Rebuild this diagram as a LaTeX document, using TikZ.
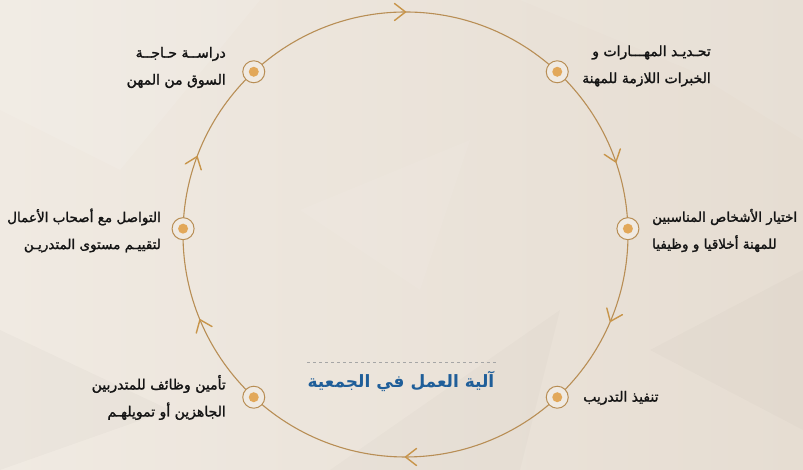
\documentclass[tikz,border=0pt]{standalone}
\usepackage{fontspec}
\newfontfamily\arabicfont[Script=Arabic, FakeBold=1.6]{DejaVu Sans}
\newfontfamily\arabicbold[Script=Arabic]{DejaVu Sans Bold}
\TeXXeTstate=1
\usetikzlibrary{calc}
\definecolor{bgA}{HTML}{F0EAE2}
\definecolor{bgB}{HTML}{E6DDD2}
\definecolor{ringc}{HTML}{B88E55}
\definecolor{dotc}{HTML}{E2A85A}
\definecolor{arrc}{HTML}{C8954A}
\definecolor{txtc}{HTML}{141414}
\definecolor{titc}{HTML}{1F5E99}
\newcommand{\rl}[1]{\beginR #1\endR}
\tikzset{
  x=1pt, y=1pt,
  cyc/.style={draw=ringc, line width=1.1pt},
  chev/.style={draw=arrc, line width=1.4pt, line cap=round, line join=round},
  ring/.style={circle, draw=ringc, line width=1pt, fill=bgA, minimum size=22pt, inner sep=0pt},
  dotm/.style={circle, fill=dotc, minimum size=10pt, inner sep=0pt},
  lbl/.style={font=\arabicfont\fontsize{14}{27}\selectfont, text=txtc, inner sep=0pt},
  lbls/.style={font=\arabicfont\fontsize{13.5}{27}\selectfont, text=txtc, inner sep=0pt},
  ttl/.style={font=\arabicbold\fontsize{17}{20}\selectfont, text=titc, inner sep=0pt},
}
\begin{document}
\begin{tikzpicture}
\useasboundingbox (0,0) rectangle (803,470);
\shade[left color=bgA, right color=bgB] (0,0) rectangle (803,470);
% faint background facets
\fill[white, opacity=0.10] (0,470) -- (260,470) -- (120,300) -- (0,360) -- cycle;
\fill[white, opacity=0.07] (520,470) -- (803,470) -- (803,330) -- (690,400) -- cycle;
\fill[black, opacity=0.015] (330,0) -- (560,160) -- (520,0) -- cycle;
\fill[black, opacity=0.02] (0,0) -- (0,140) -- (170,60) -- cycle;
\fill[white, opacity=0.06] (300,260) -- (470,330) -- (420,180) -- cycle;
\fill[black, opacity=0.015] (650,120) -- (803,200) -- (803,40) -- cycle;
\coordinate (c) at (405.5,235.5);
\draw[cyc] (c) circle[radius=222.5];
% chevron arrows (clockwise)
\foreach \a in {90,19,-23,-90,202.5,159.5}
  \draw[chev, shift={(c)}, rotate=\a] (214,11) -- (222.5,0) -- (231,11);
% markers
\foreach \n/\a in {n1/47,n2/1.5,n3/-47,n4/227,n5/178.5,n6/133}{
  \node[ring] (\n) at ($(c)+(\a:222.5)$) {};
  \node[dotm] at (\n) {};
}
% labels
\node[lbl, anchor=west, align=right] (t1) at (582,404) {\rl{تحـديـد المهـــارات و}\\\rl{الخبرات اللازمة للمهنة}};
\node[lbls, anchor=west, align=left] (t2) at (652,239.5) {\rl{اختيار الأشخاص المناسبين}\\\rl{للمهنة أخلاقيا و وظيفيا}};
\node[lbl, anchor=west] (t3) at (583,72) {\rl{تنفيذ التدريب}};
\node[lbl, anchor=east, align=right] (t4) at (226,72.5) {\rl{تأمين وظائف للمتدربين}\\\rl{الجاهزين أو تمويلهـم}};
\node[lbls, anchor=east, align=right] (t5) at (161,239.5) {\rl{التواصل مع أصحاب الأعمال}\\\rl{لتقييـم مستوى المتدريـن}};
\node[lbl, anchor=east, align=right] (t6) at (226,402.5) {\rl{دراســة حـاجــة}\\\rl{السوق من المهن}};
% title
\node[ttl] (tt) at (401,89) {\rl{آلية العمل في الجمعية}};
\coordinate (dl) at (307,108);
\coordinate (dr) at (497,108);
\draw[gray!70, dashed, line width=0.7pt] (dl) -- (dr);
\end{tikzpicture}
\end{document}
